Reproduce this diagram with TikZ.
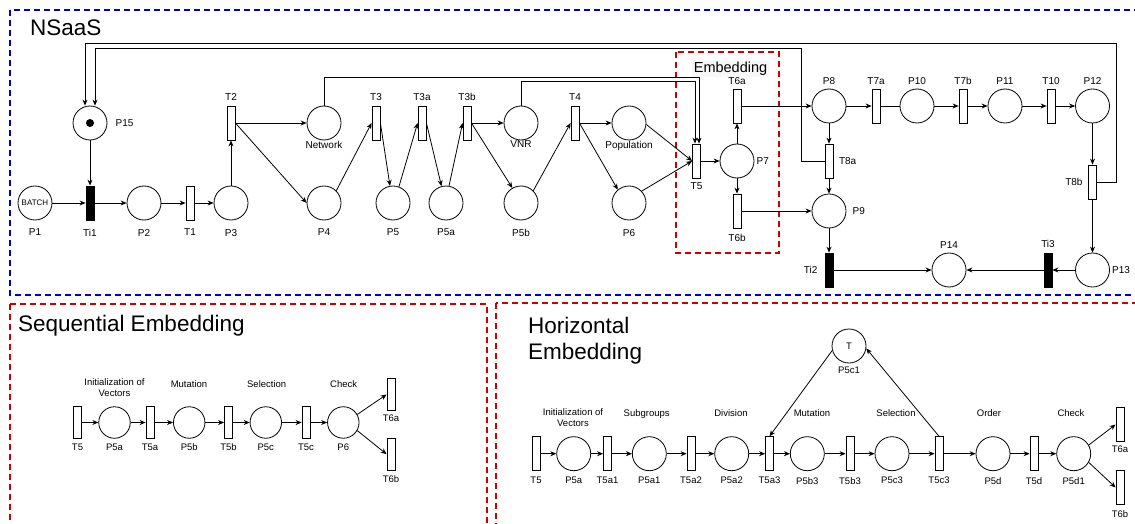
\documentclass[tikz,border=0pt]{standalone}
\usepackage{fontspec}
\setmainfont{Liberation Sans}
\usepackage{tikz}
\usetikzlibrary{arrows.meta}
\usetikzlibrary{calc}
\definecolor{azulns}{RGB}{0,0,204}
\definecolor{rojoemb}{RGB}{204,0,0}

\begin{document}
\begin{tikzpicture}[x=1pt, y=-1pt,
  lugar/.style={circle, draw, line width=0.8pt, minimum size=34pt, inner sep=0pt},
  trans/.style={rectangle, draw, line width=0.8pt, minimum width=8pt, minimum height=34pt, inner sep=0pt},
  transi/.style={trans, fill=black},
  lugarp/.style={lugar, minimum size=31.5pt},
  transp/.style={trans, minimum height=31.5pt},
  etq/.style={font=\fontsize{10}{12}\selectfont, inner sep=1pt},
  etqp/.style={font=\fontsize{9.5}{11}\selectfont, inner sep=1pt, align=center},
  arco/.style={-{Stealth[length=6pt,width=5pt]}, line width=0.8pt},
  caja/.style={dash pattern=on 6pt off 4pt, line width=2pt},
  titulo/.style={font=\fontsize{22.5}{26.5}\selectfont, inner sep=0pt, align=left}]

  \useasboundingbox (0,0) rectangle (1135,524);
  \clip (0,0) rectangle (1135,524);

  % Marcos
  \draw[caja, draw=azulns] (10,10) rectangle (1150,295);
  \draw[caja, draw=rojoemb] (676,52) rectangle (779,253);
  \draw[caja, draw=rojoemb] (10,304) rectangle (487,540);
  \draw[caja, draw=rojoemb] (496,303) rectangle (1150,540);

  % Titulos
  \node[titulo, anchor=base west] (tNS) at (30,35.5) {NSaaS};
  \node[font=\fontsize{14.5}{17}\selectfont, fill=black!3, inner sep=1.5pt, anchor=base] (tEmb) at (730.5,72.7) {Embedding};
  \node[titulo, anchor=base west] (tSeq) at (18,331.5) {Sequential Embedding};
  \node[titulo, anchor=north west] (tHor) at (528,316.5) {Horizontal\\Embedding};

  % NSaaS: lugares
  \node[lugar, font=\fontsize{8}{9}\selectfont, label={[etq,label distance=7.5pt]below:P1}] (P1) at (35,203) {BATCH};
  \foreach \n/\x in {P2/144, P3/231, P4/324, P5/393, P5a/446, P5b/521, P6/629}
    \node[lugar, label={[etq,label distance=7.5pt]below:\n}] (\n) at (\x,203) {};
  \foreach \n/\x in {Network/324, VNR/521, Population/629}
    \node[lugar, label={[etq,label distance=-0.5pt]below:\n}] (\n) at (\x,123) {};
  \foreach \n/\x in {P8/829, P10/917, P11/1005, P12/1092.5}
    \node[lugar, label={[etq,label distance=3pt]above:\n}] (\n) at (\x,106) {};
  \node[lugar, label={[etq,label distance=7pt]right:P15}] (P15) at (90,123) {};
  \node[circle, fill=black, inner sep=0pt, minimum size=8pt] (tok) at (P15) {};
  \node[lugar, label={[etq,label distance=1pt]right:P7}] (P7) at (737,161) {};
  \node[lugar, label={[etq,label distance=5pt]right:P9}] (P9) at (829,211) {};
  \node[lugar, label={[etq,label distance=3.4pt]above:P14}] (P14) at (949,270) {};
  \node[lugar, label={[etq,label distance=1pt]right:P13}] (P13) at (1092.5,270) {};

  % NSaaS: transiciones
  \node[transi, label={[etq,label distance=7.5pt]below:Ti1}] (Ti1) at (90,203) {};
  \node[trans, label={[etq,label distance=7.5pt]below:T1}] (T1) at (190,203) {};
  \foreach \n/\x in {T2/231, T3/376, T3a/422, T3b/467, T4/575}
    \node[trans, label={[etq,label distance=3.5pt]above:\n}] (\n) at (\x,123) {};
  \foreach \n/\x in {T7a/876, T7b/963, T10/1051}
    \node[trans, label={[etq,label distance=3pt]above:\n}] (\n) at (\x,106) {};
  \node[trans, label={[etq,label distance=3.5pt]below:T5}] (T5) at (696.5,161) {};
  \node[trans, label={[etq,label distance=3pt]above:T6a}] (T6a) at (737,106) {};
  \node[trans, label={[etq,label distance=4.5pt]below:T6b}] (T6b) at (737,211) {};
  \node[trans, label={[etq,label distance=4.4pt]right:T8a}] (T8a) at (829,161) {};
  \node[trans, label={[etq,label distance=4.4pt]left:T8b}] (T8b) at (1092.5,182) {};
  \node[transi, label={[etq,label distance=6pt]left:Ti2}] (Ti2) at (829,270) {};
  \node[transi, label={[etq,label distance=3.4pt]above:Ti3}] (Ti3) at (1048,270) {};

  % NSaaS: arcos
  \foreach \a/\b in {P1/Ti1, Ti1/P2, P2/T1, T1/P3, P3/T2, T2/Network, T3b/VNR, T4/Population,
                     P15/Ti1, T5/P7, P7/T6a, P7/T6b, T6a/P8, T6b/P9, P8/T7a, P10/T7b, T7b/P11,
                     P11/T10, T10/P12, P8/T8a, T8a/P9, P9/Ti2, Ti2/P14, P12/T8b, T8b/P13,
                     P13/Ti3, Ti3/P14}
    \draw[arco] (\a) -- (\b);
  \draw[line width=0.8pt] (T7a) -- (P10);
  \draw[arco] (T2.east) -- (P4.west);
  \draw[arco] (P4.45) -- (T3.west);
  \draw[arco] (T3.east) -- (P5.100);
  \draw[arco] (P5.70) -- (T3a.west);
  \draw[arco] (T3a.east) -- (P5a.105);
  \draw[arco] (P5a.80) -- (T3b.west);
  \draw[arco] (T3b.east) -- (P5b.120);
  \draw[arco] (P5b.45) -- (T4.west);
  \draw[arco] (T4.east) -- (P6.130);
  \draw[arco] (Population.-5) -- (T5.west);
  \draw[arco] (P6.43) -- (T5.west);
  \draw[arco] (Network.north) |- (699,77) -- ([xshift=2.5pt]T5.north);
  \draw[arco] (VNR.north) |- (695,81) -- ([xshift=-1.5pt]T5.north);
  \draw[arco] (T8a.west) -- (801,161) |- (95,48) -- ([xshift=5pt]P15.north);
  \draw[arco] (T8b.east) -- (1116,182) |- (85,43) -- ([xshift=-5pt]P15.north);

  % Sequential Embedding
  \foreach \n/\x in {T5/77.5, T5a/150, T5b/228.5, T5c/306}
    \node[transp, label={[etqp,label distance=4pt]below:\n}] (s\n) at (\x,422.5) {};
  \foreach \n/\x in {P5a/114.5, P5b/189.2, P5c/265.8, P6/343.3}
    \node[lugarp, label={[etqp,label distance=4pt]below:\n}] (s\n) at (\x,422.5) {};
  \node[transp, label={[etqp,label distance=3pt]below:T6a}] (sT6a) at (391,394.5) {};
  \node[transp, label={[etqp,label distance=4pt]below:T6b}] (sT6b) at (391,454.2) {};
  \node[etqp, inner sep=0pt, anchor=north] (sIni) at (114.5,378.3) {Initialization of\\Vectors};
  \node[etqp, anchor=base] (sMut) at (189,387.4) {Mutation};
  \node[etqp, anchor=base] (sSel) at (266.7,387.4) {Selection};
  \node[etqp, anchor=base] (sChk) at (343.7,387.4) {Check};
  \foreach \a/\b in {T5/P5a, P5a/T5a, T5a/P5b, P5b/T5b, T5b/P5c, P5c/T5c, T5c/P6}
    \draw[arco] (s\a) -- (s\b);
  \draw[arco] (sP6.30) -- (sT6a.west);
  \draw[arco] (sP6.-30) -- (sT6b.west);

  % Horizontal Embedding
  \foreach \n/\x in {T5/536, T5a1/607.5, T5a2/691, T5a3/769.5, T5b3/850, T5c3/939, T5d/1034}
    \node[trans, label={[etqp,label distance=4.9pt]below:\n}] (h\n) at (\x,453.7) {};
  \foreach \n/\x in {P5a/573.7, P5a1/649.3, P5a2/731.7, P5b3/807.3, P5c3/892, P5d/993, P5d1/1073.7}
    \node[lugar, label={[etqp,label distance=4.9pt]below:\n}] (h\n) at (\x,453.7) {};
  \node[trans, label={[etqp,label distance=3pt]below:T6a}] (hT6a) at (1120,424.5) {};
  \node[trans, label={[etqp,label distance=4.3pt]below:T6b}] (hT6b) at (1120,487.5) {};
  \node[lugar, font=\fontsize{9.5}{11}\selectfont, label={[etqp,label distance=2.6pt]below:P5c1}] (hP5c1) at (849,346) {T};
  \node[etqp, inner sep=0pt, anchor=north] (hIni) at (573,408.3) {Initialization of\\Vectors};
  \node[etqp, anchor=base] (hSub) at (646.7,416.4) {Subgroups};
  \node[etqp, anchor=base] (hDiv) at (731,416.4) {Division};
  \node[etqp, anchor=base] (hMut) at (812,416.4) {Mutation};
  \node[etqp, anchor=base] (hSel) at (896,416.4) {Selection};
  \node[etqp, anchor=base] (hOrd) at (989,416.4) {Order};
  \node[etqp, anchor=base] (hChk) at (1071,416.4) {Check};
  \foreach \a/\b in {T5/P5a, P5a/T5a1, T5a1/P5a1, P5a1/T5a2, T5a2/P5a2, P5a2/T5a3, T5a3/P5b3,
                     P5b3/T5b3, T5b3/P5c3, P5c3/T5c3, T5c3/P5d, P5d/T5d, T5d/P5d1}
    \draw[arco] (h\a) -- (h\b);
  \draw[arco] (hP5d1.30) -- (hT6a.west);
  \draw[arco] (hP5d1.-30) -- (hT6b.west);
  \draw[arco] (hP5c1.195) -- (hT5a3.north);
  \draw[arco] (hT5c3.north) -- (hP5c1.-8);
\end{tikzpicture}
\end{document}
